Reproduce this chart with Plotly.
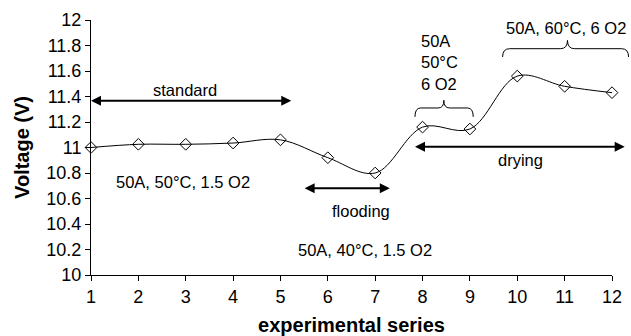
import plotly.graph_objects as go

series = [1, 2, 3, 4, 5, 6, 7, 8, 9, 10, 11, 12]
voltage = [11.00, 11.025, 11.025, 11.035, 11.06, 10.92, 10.80, 11.16, 11.145, 11.56, 11.48, 11.43]
y_ticks = [10, 10.2, 10.4, 10.6, 10.8, 11, 11.2, 11.4, 11.6, 11.8, 12]
x_ticks = series

FONT = "Liberation Sans, Arial, sans-serif"

fig = go.Figure()
fig.add_trace(go.Scatter(
    x=series, y=voltage, mode="lines+markers",
    line=dict(color="black", width=1, shape="spline", smoothing=1),
    marker=dict(symbol="diamond-open", size=9, color="black", line=dict(width=1)),
    cliponaxis=False, showlegend=False,
))

XR = (1, 12)
YR = (10, 12)

def px(x):
    return (x - XR[0]) / (XR[1] - XR[0])

def py(y):
    return (y - YR[0]) / (YR[1] - YR[0])

def brace(x0, x1, xc, yb, ym, yt, d):
    return (f"M {px(x0)},{py(yb)} Q {px(x0)},{py(ym)} {px(x0 + d)},{py(ym)} "
            f"L {px(xc - d)},{py(ym)} Q {px(xc)},{py(ym)} {px(xc)},{py(yt)} "
            f"Q {px(xc)},{py(ym)} {px(xc + d)},{py(ym)} "
            f"L {px(x1 - d)},{py(ym)} Q {px(x1)},{py(ym)} {px(x1)},{py(yb)}")

shapes = [
    dict(type="path", xref="paper", yref="paper",
         path=brace(7.84, 9.07, 8.45, 11.24, 11.31, 11.37, 0.12),
         line=dict(color="black", width=1)),
    dict(type="path", xref="paper", yref="paper",
         path=brace(9.69, 12.35, 11.06, 11.71, 11.775, 11.84, 0.15),
         line=dict(color="black", width=1)),
]

def dbl_arrow(x0, x1, y):
    return dict(x=x0, y=y, ax=x1, ay=y, xref="x", yref="y", axref="x", ayref="y",
                text="", showarrow=True, arrowhead=2, startarrowhead=2,
                arrowside="end+start", arrowsize=1, startarrowsize=1,
                arrowwidth=2, arrowcolor="black")

def label(x, y, t, align="center", xanchor="center"):
    return dict(x=x, y=y, xref="x", yref="y", text=t, showarrow=False,
                font=dict(family=FONT, size=16.5, color="black"),
                align=align, xanchor=xanchor)

annotations = [
    dbl_arrow(1.0, 5.26, 11.367),
    dbl_arrow(5.51, 7.34, 10.68),
    dbl_arrow(7.84, 12.3, 11.006),
    label(2.98, 11.45, "standard"),
    label(2.95, 10.73, "50A, 50°C, 1.5 O2"),
    label(6.71, 10.50, "flooding"),
    label(6.78, 10.20, "50A, 40°C, 1.5 O2"),
    label(10.06, 10.90, "drying"),
    label(7.92, 11.67, "50A<br>50°C<br>6 O2", align="left", xanchor="left"),
    label(11.03, 11.935, "50A, 60°C, 6 O2"),
]

fig.update_layout(
    width=631, height=336,
    margin=dict(l=91, r=19, t=20, b=61),
    plot_bgcolor="white", paper_bgcolor="white",
    font=dict(family=FONT, size=18, color="black"),
    shapes=shapes, annotations=annotations,
    xaxis=dict(range=list(XR), tickvals=x_ticks, showgrid=False, zeroline=False,
               automargin=False,
               showline=True, linecolor="black", linewidth=1, ticks="outside",
               ticklen=5, tickcolor="black", tickfont=dict(size=18),
               title=dict(text="<b>experimental series</b>", font=dict(size=20), standoff=14)),
    yaxis=dict(range=list(YR), tickvals=y_ticks, showgrid=False, zeroline=False,
               automargin=False,
               showline=True, linecolor="black", linewidth=1, ticks="outside",
               ticklen=5, tickcolor="black", tickfont=dict(size=18),
               title=dict(text="<b>Voltage (V)</b>", font=dict(size=20), standoff=11)),
)

fig.write_html("out.html", config={"displayModeBar": False},
               post_script="document.body.style.margin='0';document.body.style.overflow='hidden';")
